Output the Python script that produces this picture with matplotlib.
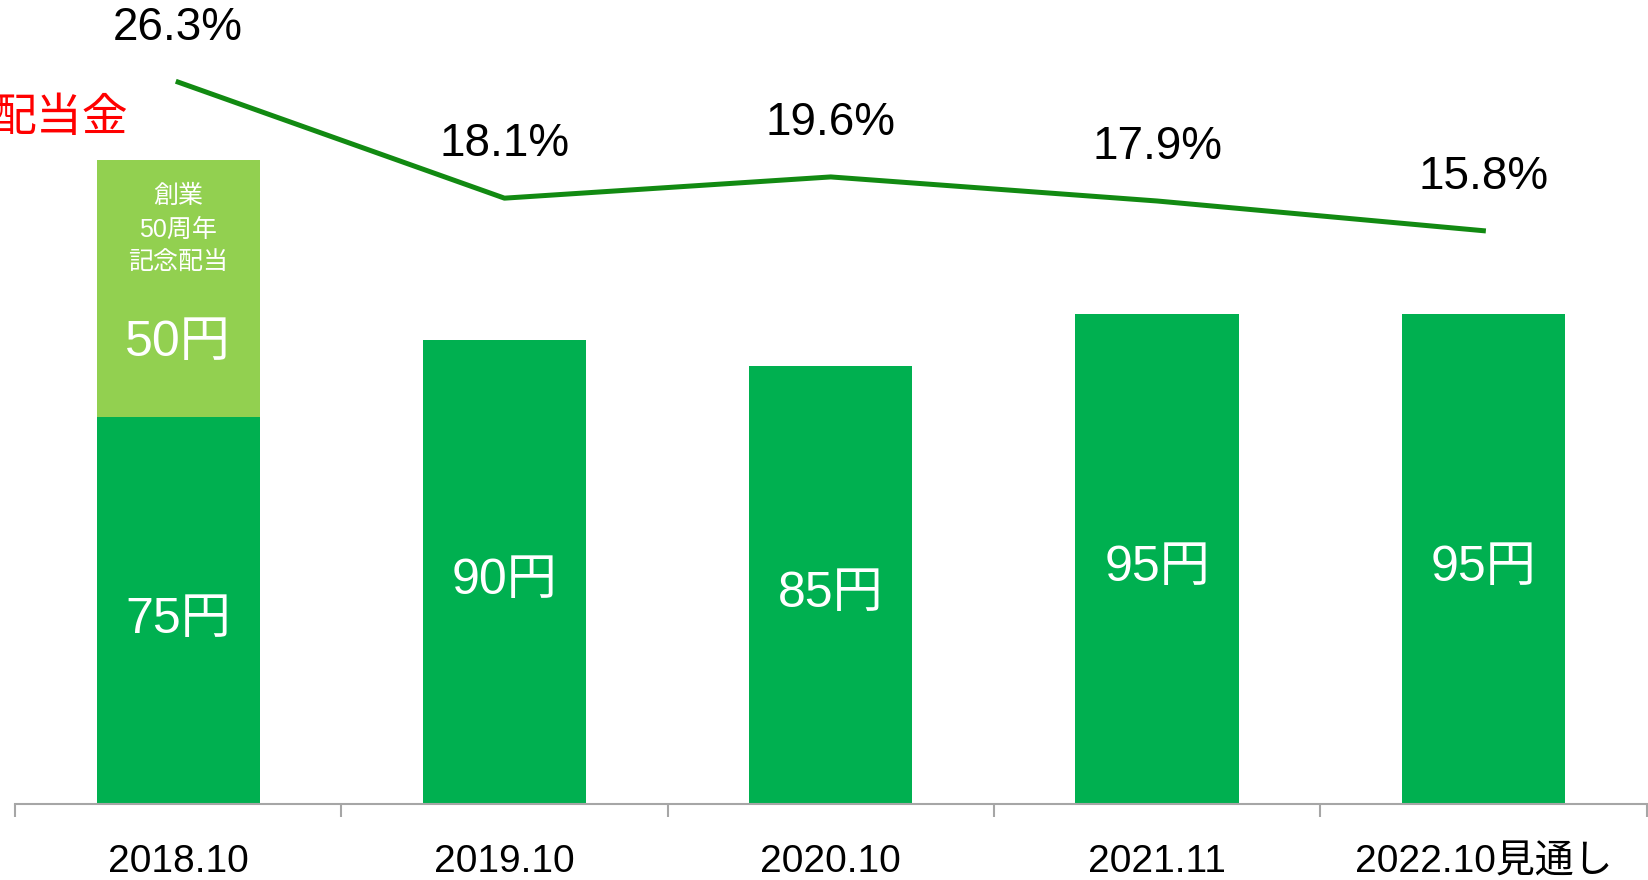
import numpy as np
import matplotlib.pyplot as plt

plt.rcParams['font.family'] = ['Liberation Sans', 'Noto Sans CJK JP', 'DejaVu Sans']

# data
periods = ['2018.10', '2019.10', '2020.10', '2021.11', '2022.10見通し']
dividend = [75, 90, 85, 95, 95]
special = [50, 0, 0, 0, 0]
payout = [26.3, 18.1, 19.6, 17.9, 15.8]

dark_green = '#00B050'
light_green = '#92D050'
line_green = '#128A12'

fig = plt.figure(figsize=(16.48, 8.8), dpi=100)
ax = fig.add_axes([0.0091, 0.0864, 0.9900, 0.9136])

x = np.arange(len(periods))
ax.bar(x, dividend, width=0.5, color=dark_green)
ax.bar(x, special, width=0.5, bottom=dividend, color=light_green)

# labels inside the bars
for i, v in enumerate(dividend):
    ax.text(x[i], v / 2 - 1.8, f'{v}円', ha='center', va='center', color='white', fontsize=36)
ax.text(x[0], 89.5, f'{special[0]}円', ha='center', va='center', color='white', fontsize=36)
ax.text(x[0], 111.5, '創業\n50周年\n記念配当', ha='center', va='center', color='white',
        fontsize=18, linespacing=1.5)

ax.set_xlim(-0.5, len(periods) - 0.5)
ax.set_ylim(0, 156)
ax.set_yticks([])
for s in ['top', 'left', 'right']:
    ax.spines[s].set_visible(False)
ax.spines['bottom'].set_color('#A6A6A6')
ax.spines['bottom'].set_linewidth(1.5)
ax.set_xticks(x)
ax.set_xticklabels(periods, fontsize=28)
ax.tick_params(axis='x', which='major', length=0, pad=29)
ax.set_xticks(np.arange(len(periods) + 1) - 0.5, minor=True)
ax.tick_params(axis='x', which='minor', length=9.5, width=1.5, color='#A6A6A6')

# payout ratio line
ax2 = ax.twinx()
ax2.plot(x, payout, color=line_green, linewidth=3.6)
ax2.set_ylim(-24.7, 32.1)
ax2.set_yticks([])
for s in ax2.spines.values():
    s.set_visible(False)
for i, p in enumerate(payout):
    ax2.annotate(f'{p}%', (x[i], p), xytext=(0, 39), textcoords='offset points',
                 ha='center', va='center', fontsize=33)

fig.text(128 / 1648, 1 - 119 / 880, '配当金', color='#FF0000', fontsize=33,
         ha='right', va='center')

fig.savefig('out.png', dpi=100)
